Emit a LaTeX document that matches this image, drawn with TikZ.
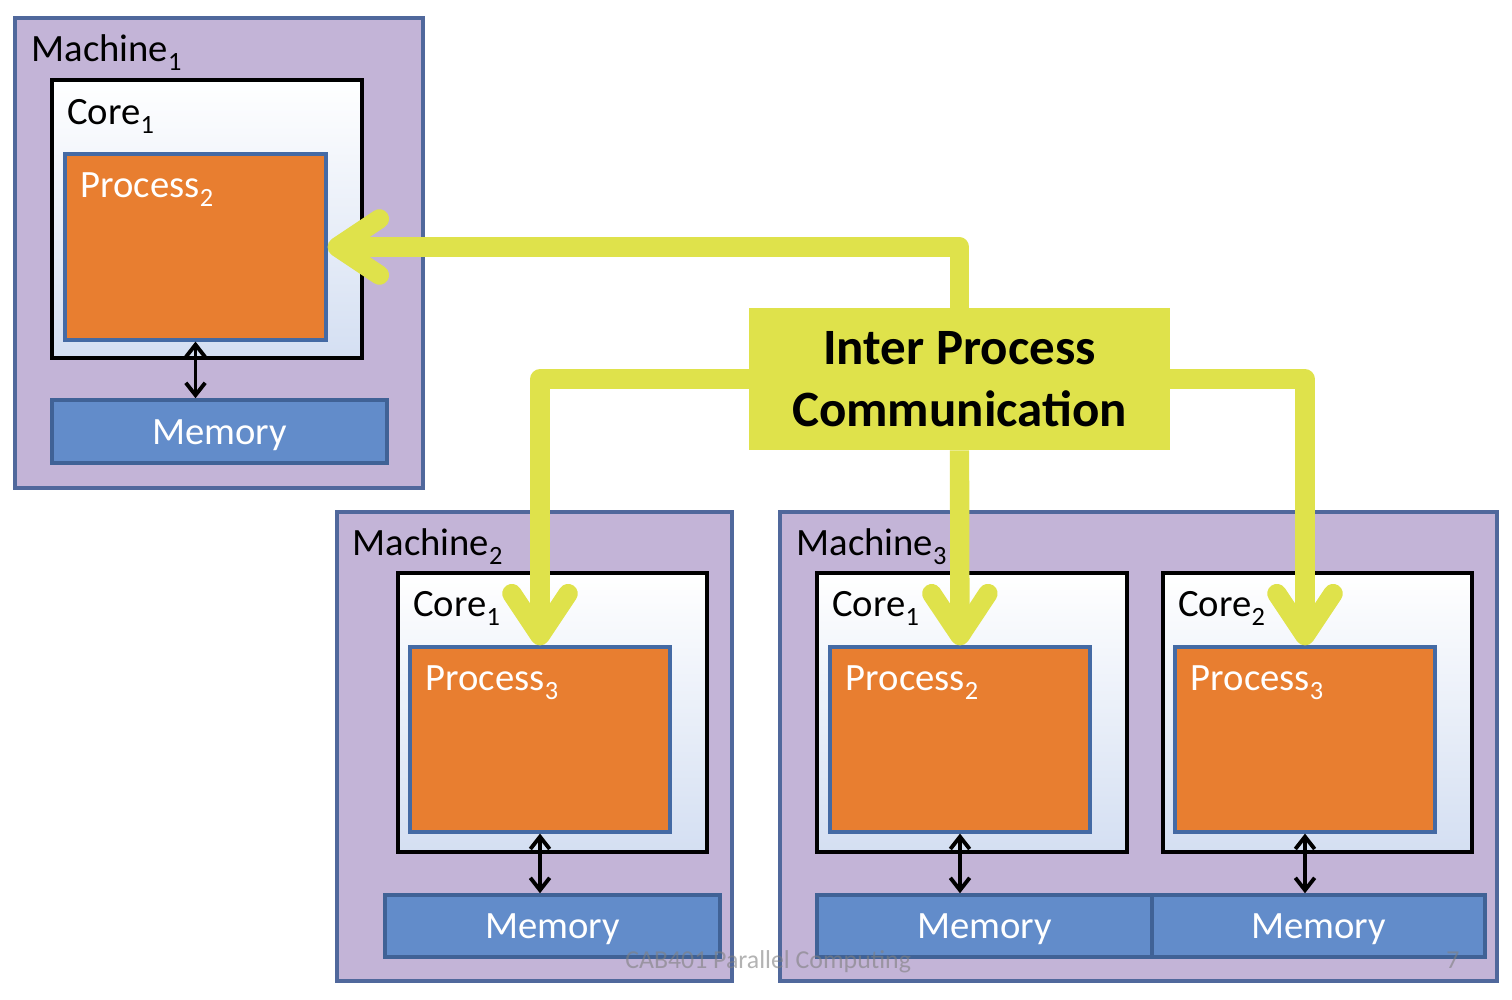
\documentclass[tikz,border=0pt]{standalone}
\usepackage{fontspec}
\setmainfont{Carlito}
\usetikzlibrary{arrows.meta,fit,positioning}

\definecolor{machfill}{RGB}{195,180,215}
\definecolor{machline}{RGB}{80,104,156}
\definecolor{corebot}{RGB}{212,223,242}
\definecolor{procfill}{RGB}{232,126,48}
\definecolor{procline}{RGB}{68,106,164}
\definecolor{memfill}{RGB}{98,140,202}
\definecolor{memline}{RGB}{64,98,150}
\definecolor{ipcyellow}{RGB}{223,226,75}

\newcommand{\bigtxt}{\fontsize{22}{26}\selectfont}
\newcommand{\lowsub}[1]{\raisebox{-5pt}{\fontsize{15}{17}\selectfont #1}}

\tikzset{
  machine/.style={fill=machfill,draw=machline,line width=2pt,inner sep=0pt},
  core/.style={top color=white,bottom color=corebot,draw=black,line width=2.3pt,inner sep=0pt},
  process/.style={fill=procfill,draw=procline,line width=1.8pt,inner sep=0pt},
  memory/.style={fill=memfill,draw=memline,line width=2pt,inner sep=0pt},
  memtxt/.style={inner sep=0pt,text=white,font=\bigtxt},
  lbl/.style={anchor=base west,inner sep=0pt,font=\bigtxt},
  ipcbox/.style={fill=ipcyellow,inner sep=0pt,align=center,font=\fontsize{29}{35}\selectfont\bfseries},
  ipcline/.style={draw=ipcyellow,line width=11pt,line join=round,
    -{Straight Barb[length=24pt,width=32pt,round]}},
  rw/.style={line width=2.2pt,
    {Straight Barb[length=7pt,width=11pt]}-{Straight Barb[length=7pt,width=11pt]}}
}

\begin{document}
\begin{tikzpicture}[x=0.02cm,y=-0.02cm]
  \useasboundingbox (0,0) rectangle (1512,1000);

  % machine 1
  \node[machine,fit={(15,18) (423,488)}] (m1) {};
  \node[lbl] (m1lbl) at ([shift={(18,45)}]m1.north west) {Machine\lowsub{1}};
  \node[core,fit={(52,80) (362,358)}] (c11) {};
  \node[lbl] (c11lbl) at ([shift={(17,47)}]c11.north west) {Core\lowsub{1}};
  \node[process,fit={(65,154) (326,340)}] (p12) {};
  \node[lbl,text=white] (p12lbl) at ([shift={(17,45)}]p12.north west) {Process\lowsub{2}};
  \node[memory,fit={(52,400) (387,463)}] (mem1) {};
  \node[memtxt] at ([yshift=-2pt]mem1.center) {Memory};

  % machine 2
  \node[machine,fit={(337,512) (732,981)}] (m2) {};
  \node[lbl] (m2lbl) at ([shift={(17,45)}]m2.north west) {Machine\lowsub{2}};
  \node[core,fit={(398,573) (707,852)}] (c21) {};
  \node[lbl] (c21lbl) at ([shift={(17,46)}]c21.north west) {Core\lowsub{1}};
  \node[process,fit={(410,647) (670,832)}] (p23) {};
  \node[lbl,text=white] (p23lbl) at ([shift={(17,45)}]p23.north west) {Process\lowsub{3}};
  \node[memory,fit={(385,895) (720,957)}] (mem2) {};
  \node[memtxt] at ([yshift=-2pt]mem2.center) {Memory};

  % machine 3
  \node[machine,fit={(780,512) (1497,981)}] (m3) {};
  \node[lbl] (m3lbl) at ([shift={(18,45)}]m3.north west) {Machine\lowsub{3}};
  \node[core,fit={(817,573) (1127,852)}] (c31) {};
  \node[lbl] (c31lbl) at ([shift={(17,46)}]c31.north west) {Core\lowsub{1}};
  \node[process,fit={(830,647) (1090,832)}] (p32) {};
  \node[lbl,text=white] (p32lbl) at ([shift={(17,45)}]p32.north west) {Process\lowsub{2}};
  \node[core,fit={(1163,573) (1472,852)}] (c32) {};
  \node[lbl] (c32lbl) at ([shift={(17,46)}]c32.north west) {Core\lowsub{2}};
  \node[process,fit={(1175,647) (1435,832)}] (p33) {};
  \node[lbl,text=white] (p33lbl) at ([shift={(17,45)}]p33.north west) {Process\lowsub{3}};
  \node[memory,fit={(817,895) (1152,957)}] (mem31) {};
  \node[memtxt] at ([yshift=-2pt]mem31.center) {Memory};
  \node[memory,fit={(1152,895) (1485,957)}] (mem32) {};
  \node[memtxt] at ([yshift=-2pt]mem32.center) {Memory};

  % process <-> memory
  \draw[rw] (p12.south) -- (p12.south |- mem1.north);
  \draw[rw] (p23.south) -- (p23.south |- mem2.north);
  \draw[rw] (p32.south) -- (p32.south |- mem31.north);
  \draw[rw] (p33.south) -- (p33.south |- mem32.north);

  % inter process communication
  \node[ipcbox,minimum width=8.42cm,minimum height=2.84cm] (ipc) at (959.5,379)
    {Inter Process\\Communication};
  \draw[ipcline] (ipc.north) |- (p12.east);
  \draw[ipcline] (ipc.west) -| (p23.north);
  \draw[ipcline] (ipc.south) -- (p32.north);
  \draw[ipcline] (ipc.east) -| (p33.north);

  % slide footer
  \node[anchor=base west,inner sep=0pt,text=gray,opacity=0.6,font=\fontsize{14.7}{17}\selectfont]
    (foot) at (625,968) {CAB401 Parallel Computing};
  \node[anchor=base west,inner sep=0pt,text=gray,opacity=0.6,font=\fontsize{14.7}{17}\selectfont]
    (pgno) at (1446,968) {7};
\end{tikzpicture}
\end{document}
